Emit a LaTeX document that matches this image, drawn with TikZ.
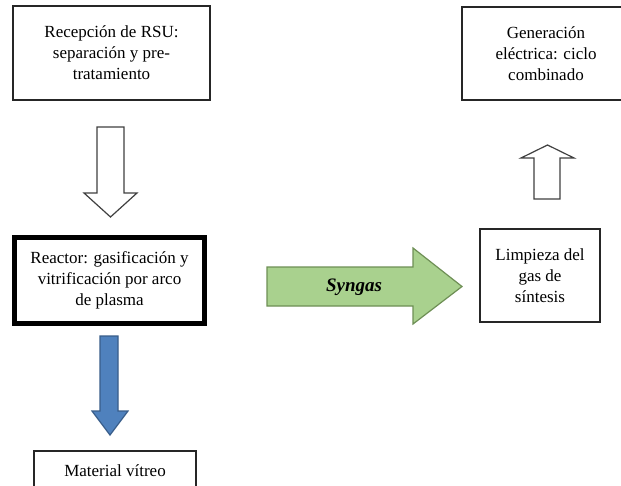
\documentclass[tikz,border=0pt]{standalone}
\usepackage{fontspec}
\setmainfont{Liberation Serif}
\usetikzlibrary{calc}
\definecolor{gasfill}{HTML}{A9D18E}
\definecolor{gasline}{HTML}{6E8F55}
\definecolor{glassfill}{HTML}{4F81BD}
\definecolor{glassline}{HTML}{385D8A}
\begin{document}
\begin{tikzpicture}[x=1pt,y=-1pt,
  box/.style={draw=black!85, line width=1.2pt, fill=white, align=center,
    font=\fontsize{17}{21}\selectfont, inner sep=0pt},
  mainbox/.style={box, draw=black, line width=5pt},
  hollow/.style={draw=black!75, line width=1.2pt, fill=white, line join=miter},
  gasarrow/.style={draw=gasline, line width=1.2pt, fill=gasfill, line join=miter},
  glassarrow/.style={draw=glassline, line width=1.2pt, fill=glassfill, line join=miter}]
\useasboundingbox (0,0) rectangle (621,485);
\clip (0,0) rectangle (621,485);
\fill[white] (0,0) rectangle (621,485);

% process steps
\node[box, minimum width=197pt, minimum height=94pt] (rsu) at (111.5,53)
  {Recepción de RSU:\\separación y pre-\\tratamiento};
\node[box, minimum width=168pt, minimum height=93pt] (gen) at (546,53.5)
  {Generación\\eléctrica: ciclo\\combinado};
\node[mainbox, minimum width=190pt, minimum height=86pt] (reactor) at (109.5,280.5)
  {Reactor: gasificación y\\vitrificación por arco\\de plasma};
\node[box, minimum width=120pt, minimum height=93pt] (limp) at (540,275.5)
  {Limpieza del\\gas de\\síntesis};
\node[box, minimum width=162pt, minimum height=39pt] (mat) at (115,470.5)
  {Material vítreo};

% reception -> reactor
\draw[hollow] (97,127) -- (124,127) -- (124,193) -- (137,193) -- (110.5,217)
  -- (84,193) -- (97,193) -- cycle;
% reactor -> vitreous material
\draw[glassarrow] (100,336) -- (118,336) -- (118,411) -- (128,411) -- (110,435)
  -- (92,411) -- (100,411) -- cycle;
% reactor -> gas cleaning
\draw[gasarrow] (267,267) -- (413,267) -- (413,248) -- (462,286.5) -- (413,324)
  -- (413,306) -- (267,306) -- cycle;
\node[font=\fontsize{19}{21}\selectfont\bfseries\itshape] (syn) at (354,287) {Syngas};
% gas cleaning -> power generation
\draw[hollow] (534,199) -- (560,199) -- (560,158) -- (574,158) -- (547.5,145)
  -- (521,158) -- (534,158) -- cycle;
\end{tikzpicture}
\end{document}
